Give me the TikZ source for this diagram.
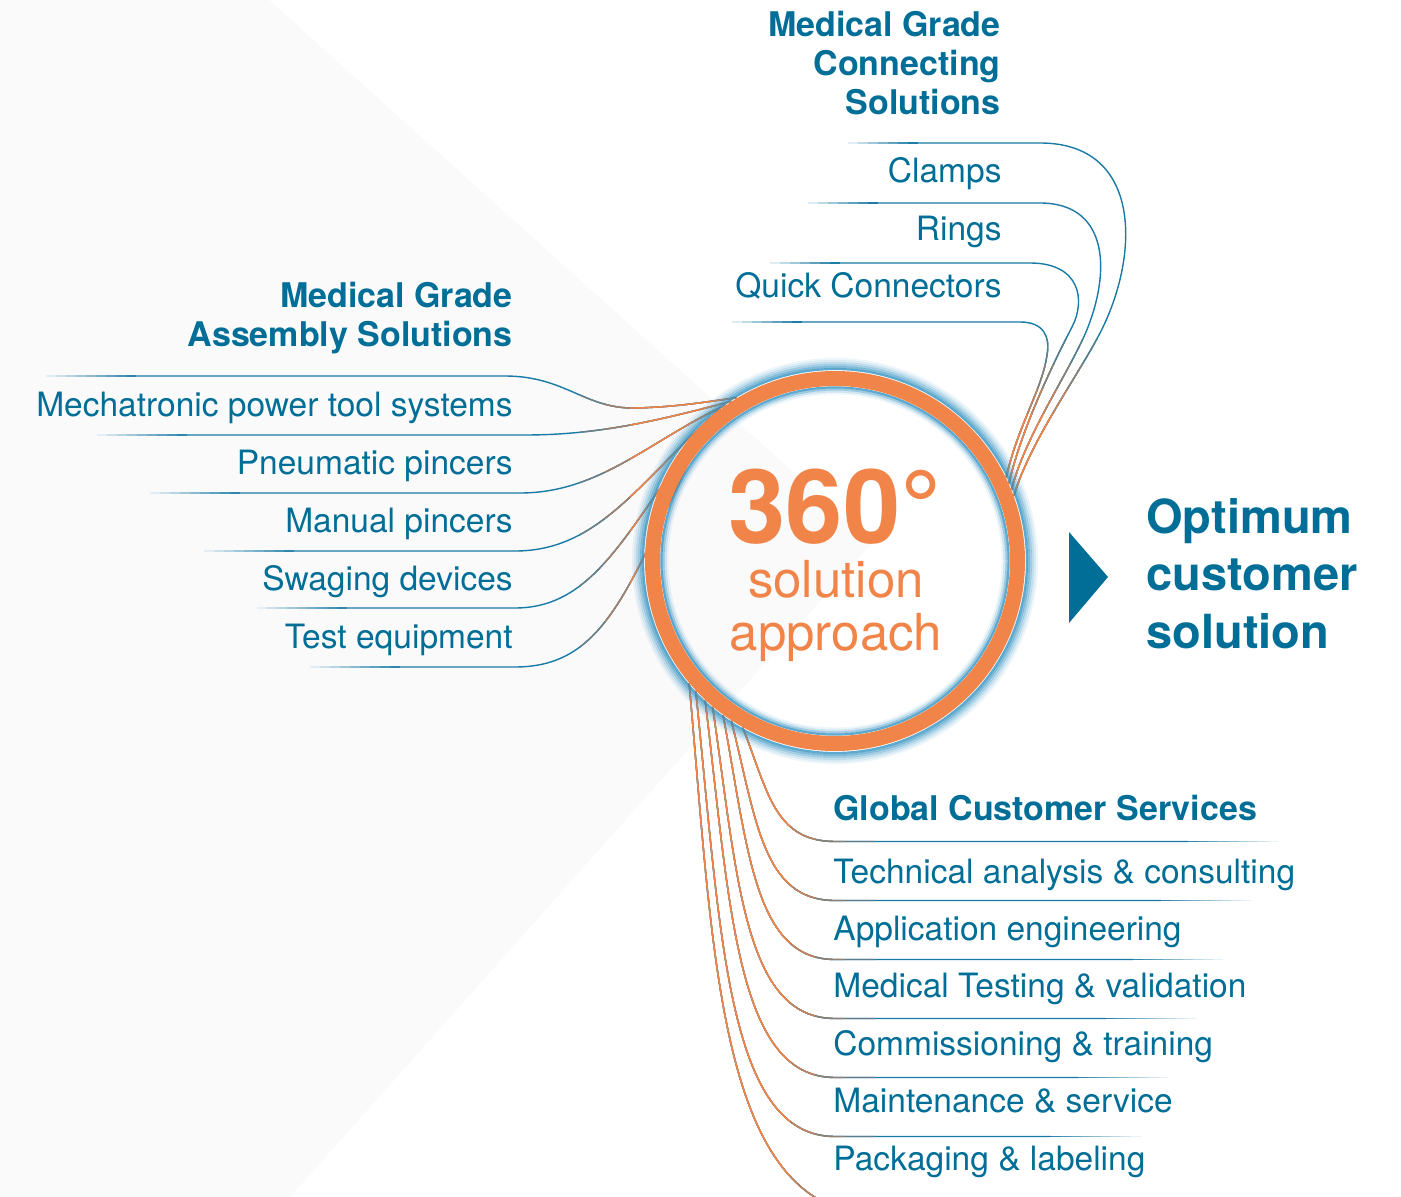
\documentclass[tikz,border=0pt]{standalone}
\usepackage{fontspec}
\setmainfont{TeX Gyre Heros}

\definecolor{txtblue}{RGB}{0,110,150}
\definecolor{wireblue}{RGB}{25,122,165}
\definecolor{hubor}{RGB}{241,132,72}
\definecolor{glowblue}{RGB}{40,140,190}
\definecolor{wedge}{RGB}{250,250,251}

% wires of the assembly group
\newcommand{\asmwires}{%
  \draw[wire] (asmw1) -- (505,376) .. controls (565,376) and (585,409) .. (635,408) .. controls (680,407) and (710,401) .. (hub.121);
  \draw[wire] (asmw2) -- (525,435) .. controls (600,435) and (660,420) .. (hub.123);
  \draw[wire] (asmw3) -- (520,493) .. controls (600,493) and (650,440) .. (hub.125);
  \draw[wire] (asmw4) -- (515,551) .. controls (600,551) and (640,480) .. (hub.127);
  \draw[wire] (asmw5) -- (515,608) .. controls (600,608) and (630,520) .. (hub.129);
  \draw[wire] (asmw6) -- (515,667) .. controls (610,667) and (630,580) .. (hub.131);
}
% wires of the connecting group
\newcommand{\conwires}{%
  \draw[wire] (conw1) -- (1040,143) .. controls (1140,143) and (1140,250) .. (1103,327) .. controls (1083,369) and (1030,440) .. (hub.20);
  \draw[wire] (conw2) -- (1040,203) .. controls (1105,203) and (1112,265) .. (1088,327) .. controls (1072,368) and (1025,435) .. (hub.22);
  \draw[wire] (conw3) -- (1030,263) .. controls (1080,263) and (1086,300) .. (1072,327) .. controls (1060,350) and (1022,425) .. (hub.24);
  \draw[wire] (conw4) -- (1020,322) .. controls (1045,322) and (1050,338) .. (1047,355) .. controls (1042,390) and (1018,425) .. (hub.26);
}
% wires of the services group
\newcommand{\svcwires}{%
  \foreach \a [count=\i] in {241,237,234,230,227,223} {
    \pgfmathsetmacro{\dy}{0.55*(841.5+59*(\i-1)-561+190*sin(\a))}
    \pgfmathsetmacro{\dx}{190*cos(\a)+31}
    \draw[wire] (hub.\a) .. controls +(25,\dy) and +(\dx,0) .. (svcw\i) -- (svcf\i);
  }
  \draw[wire] (hub.220) .. controls +(25,277) and +(-162,0) .. (svcw7);
}

\begin{document}
\begin{tikzpicture}[x=0.5pt, y=-0.5pt,
  wire/.style={line width=0.7pt},
  item/.style={font=\fontsize{16.75}{20}\selectfont, text=txtblue, inner sep=0pt},
  head/.style={font=\fontsize{17}{20}\selectfont\bfseries, text=txtblue, inner sep=0pt},
  goal/.style={font=\fontsize{23.5}{28}\selectfont\bfseries, text=txtblue, inner sep=0pt, anchor=base west},
  hubtext/.style={text=hubor, inner sep=0pt, anchor=base, text depth=0pt}]
\useasboundingbox (0,0) rectangle (1401,1197);
\clip (0,0) rectangle (1401,1197);
\fill[wedge] (0,0) -- (269,0) -- (872,543) -- (290,1197) -- (0,1197) -- cycle;

\node[circle, minimum size=190pt, inner sep=0pt] (hub) at (835,561) {};

% wire ends that fade out
\foreach \x/\y [count=\i] in {46/376,97/435,150/493,204/551,257/608,310/667} {
  \coordinate (asmw\i) at (\x+90,\y);
  \foreach \k in {0,...,8} {
    \pgfmathtruncatemacro{\p}{10*\k+10}
    \draw[wire, wireblue!\p!wedge] (\x+10*\k,\y) -- (\x+10*\k+10,\y);
  }
}
\foreach \x/\y [count=\i] in {848/143,808/203,770/263,732/322} {
  \coordinate (conw\i) at (\x+70,\y);
  \foreach \k in {0,...,6} {
    \pgfmathtruncatemacro{\p}{14*\k+14}
    \draw[wire, wireblue!\p!white] (\x+10*\k,\y) -- (\x+10*\k+10,\y);
  }
}
\foreach \e [count=\i] in {1278,1251,1223,1196,1168,1141} {
  \pgfmathsetmacro{\yy}{841.5+59*(\i-1)}
  \coordinate (svcw\i) at (835,\yy);
  \coordinate (svcf\i) at (\e-90,\yy);
  \foreach \k in {0,...,8} {
    \pgfmathtruncatemacro{\p}{90-10*\k}
    \draw[wire, wireblue!\p!white] (\e-90+10*\k,\yy) -- (\e-80+10*\k,\yy);
  }
}
\coordinate (svcw7) at (880,1215);

% wires, blue into orange near the hub
\begin{scope}[color=wireblue]
  \asmwires \conwires \svcwires
\end{scope}
\foreach \xa/\c in {580/60,605/35,630/0} {
  \begin{scope}[color=wireblue!\c!hubor]
    \clip (\xa,330) rectangle (760,720);
    \asmwires
  \end{scope}
}
\foreach \ya/\c in {340/70,365/45,390/20,415/0} {
  \begin{scope}[color=wireblue!\c!hubor]
    \clip (950,\ya) rectangle (1200,560);
    \conwires
  \end{scope}
}
\foreach \xb/\c in {875/70,845/45,815/20,790/0} {
  \begin{scope}[color=wireblue!\c!hubor]
    \clip (600,650) rectangle (\xb,1197);
    \svcwires
  \end{scope}
}

% hub ring with glow
\foreach \r/\o in {101/0.08,100/0.16,99/0.28,98/0.42,97/0.58,96/0.75}
  \draw[glowblue, draw opacity=\o, line width=1.1pt] (hub.center) circle (\r pt);
\foreach \r/\o in {86.8/0.75,85.8/0.45,84.8/0.22,83.8/0.08}
  \draw[glowblue, draw opacity=\o, line width=1.1pt] (hub.center) circle (\r pt);
\draw[hubor, line width=7.5pt] (hub.center) circle (91.25pt);

\node[hubtext, font=\fontsize{51.5}{52}\selectfont\bfseries] (deg) at (835,543) {360°};
\node[hubtext, font=\fontsize{25.5}{26}\selectfont, text height=0.7em] (sol) at (836,597) {solution};
\node[hubtext, font=\fontsize{25.5}{26}\selectfont, text height=0.7em] (appr) at (836,650) {approach};

% assembly
\node[head, anchor=base east] (asmhead1) at (513,308) {Medical Grade};
\node[head, anchor=base east] (asmhead2) at (513,347) {Assembly Solutions};
\foreach \txt [count=\i] in {Mechatronic power tool systems, Pneumatic pincers, Manual pincers, Swaging devices, Test equipment}
  \node[item, anchor=base east] (asm\i) at (513,{417+57.75*(\i-1)}) {\txt};

% connecting
\node[head, anchor=base east] (conhead1) at (1001,37) {Medical Grade};
\node[head, anchor=base east] (conhead2) at (1001,76) {Connecting};
\node[head, anchor=base east] (conhead3) at (1001,115) {Solutions};
\foreach \txt [count=\i] in {Clamps, Rings, Quick Connectors}
  \node[item, anchor=base east] (con\i) at (1002,{183+57.5*(\i-1)}) {\txt};

% services
\node[head, anchor=base west] (svchead) at (833,820) {Global Customer Services};
\foreach \txt [count=\i] in {Technical analysis \& consulting, Application engineering, Medical Testing \& validation, Commissioning \& training, Maintenance \& service, Packaging \& labeling}
  \node[item, anchor=base west] (svc\i) at (833,{883+57.4*(\i-1)}) {\txt};

% result
\fill[txtblue] (1069,532) -- (1108,577) -- (1069,623) -- cycle;
\node[goal] (goal1) at (1146,533) {Optimum};
\node[goal] (goal2) at (1146,590) {customer};
\node[goal] (goal3) at (1146,648) {solution};
\end{tikzpicture}
\end{document}
